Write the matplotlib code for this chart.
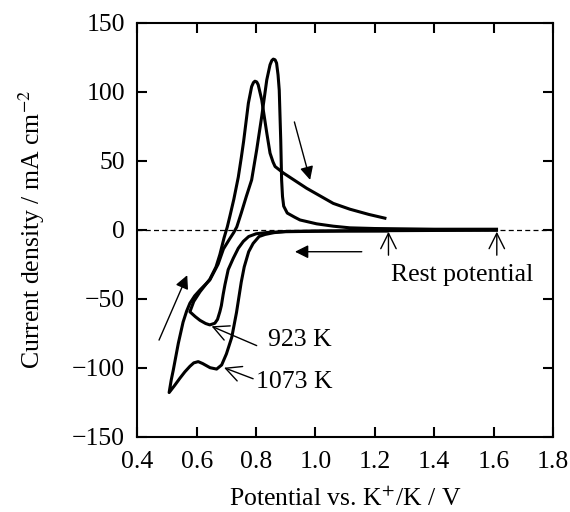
import matplotlib.pyplot as plt
import numpy as np

plt.rcParams['font.family'] = ['Liberation Serif', 'DejaVu Serif']
plt.rcParams['mathtext.fontset'] = 'stix'
plt.rcParams['font.size'] = 18.5

# 923 K: cathodic sweep from rest potential, then anodic back
x923 = [1.24, 1.10, 1.00, 0.90, 0.84, 0.80, 0.775, 0.757, 0.74, 0.723,
        0.706, 0.695, 0.689, 0.683, 0.678, 0.67, 0.661, 0.644, 0.63, 0.611,
        0.595, 0.577,
        0.59, 0.611, 0.644, 0.665, 0.678, 0.692, 0.703, 0.712, 0.725, 0.74,
        0.75, 0.758, 0.774, 0.785, 0.791, 0.796, 0.802, 0.807, 0.819, 0.836,
        0.847, 0.857, 0.864, 0.892, 0.97, 1.06, 1.116, 1.18, 1.234]
y923 = [-1.0, -1.0, -1.2, -1.5, -2.0, -3.0, -5.0, -8.5, -13.5, -20.8,
        -29, -40, -47, -55, -59.4, -65, -67.8, -69, -68, -65.7,
        -63, -59.5,
        -52, -45, -36, -27, -18, -6, 2, 10, 22, 38,
        52, 64, 91.6, 103.6, 106.5, 107.5, 107, 105, 94, 70,
        55.4, 49, 45.7, 41, 30, 19, 14.8, 11, 8.3]

# 1073 K
x1073 = [1.61, 1.40, 1.20, 1.00, 0.90, 0.86, 0.83, 0.81, 0.79, 0.775,
         0.76, 0.75, 0.734, 0.718, 0.70, 0.684, 0.667, 0.645, 0.62, 0.605,
         0.59, 0.577, 0.56, 0.543, 0.525, 0.507,
         0.514, 0.521, 0.538, 0.554, 0.566, 0.577, 0.593, 0.611, 0.644, 0.672,
         0.69, 0.71, 0.725, 0.735, 0.75, 0.767, 0.785, 0.802, 0.819, 0.836,
         0.847, 0.853, 0.858, 0.864, 0.869, 0.874, 0.878, 0.883, 0.886, 0.889,
         0.893, 0.905, 0.93, 0.948, 1.004, 1.06, 1.116, 1.20, 1.40, 1.61]
y1073 = [-0.5, -0.6, -0.8, -1.0, -1.3, -2.2, -3.5, -5, -10, -16,
         -27, -38, -60, -78, -90, -98, -101, -100, -97, -95.6,
         -96.5, -99, -103, -107.7, -113, -118,
         -109, -101.7, -82.3, -67, -59, -53.3, -48, -43.7, -36.5, -25,
         -14, -7, -2, 2, 12, 24, 36, 57.8, 82, 108.5,
         119.4, 122.5, 123.5, 123, 120.6, 112, 101, 65, 36, 24,
         17, 12, 9, 7, 4.2, 2.5, 1.3, 0.8, 0.3, 0.3]

xticks = [0.4, 0.6, 0.8, 1.0, 1.2, 1.4, 1.6, 1.8]
yticks = [-150, -100, -50, 0, 50, 100, 150]

fig, ax = plt.subplots(figsize=(5.7, 5.12), dpi=100)
fig.subplots_adjust(left=0.241, right=0.970, bottom=0.147, top=0.956)

ax.axhline(0, color='k', lw=0.9, ls=(0, (4, 2.6)), zorder=1)
ax.plot(x923, y923, color='k', lw=2.2, solid_joinstyle='round', zorder=3)
ax.plot(x1073, y1073, color='k', lw=2.2, solid_joinstyle='round', zorder=3)

# sweep direction arrows
filled = dict(arrowstyle='-|>', color='k', lw=1.0, mutation_scale=20, shrinkA=0, shrinkB=0)
ax.annotate('', xy=(0.982, 36), xytext=(0.929, 78), arrowprops=filled)
ax.annotate('', xy=(0.931, -16), xytext=(1.156, -16), arrowprops=filled)
ax.annotate('', xy=(0.568, -33), xytext=(0.473, -80), arrowprops=filled)

# labels with open arrows
opened = dict(arrowstyle='->,head_length=0.6,head_width=0.3', color='k', lw=1.0, shrinkA=0, shrinkB=0)
ax.annotate('', xy=(0.65, -70), xytext=(0.802, -84), arrowprops=opened)
ax.annotate('', xy=(0.692, -100), xytext=(0.790, -108), arrowprops=opened)
ax.text(0.948, -80, '923 K', ha='center', va='center')
ax.text(0.928, -110.5, '1073 K', ha='center', va='center')

ax.annotate('', xy=(1.246, -1.5), xytext=(1.246, -18.5), arrowprops=opened)
ax.annotate('', xy=(1.611, -1.5), xytext=(1.611, -18.5), arrowprops=opened)
ax.text(1.493, -32.5, 'Rest potential', ha='center', va='center')

ax.set_xlim(0.4, 1.8)
ax.set_ylim(-150, 150)
ax.set_xticks(xticks)
ax.set_xticklabels(['%.1f' % t for t in xticks])
ax.set_yticks(yticks)
ax.tick_params(direction='in', length=7, width=1.5, top=True, right=True)
ax.tick_params(axis='x', pad=10)
ax.tick_params(axis='y', pad=9)
for s in ax.spines.values():
    s.set_linewidth(1.5)

ax.set_xlabel('Potential vs. K$^{+}$/K / V', labelpad=10)
ax.set_ylabel('Current density / mA cm$^{-2}$', labelpad=18)

plt.savefig('out.png')
